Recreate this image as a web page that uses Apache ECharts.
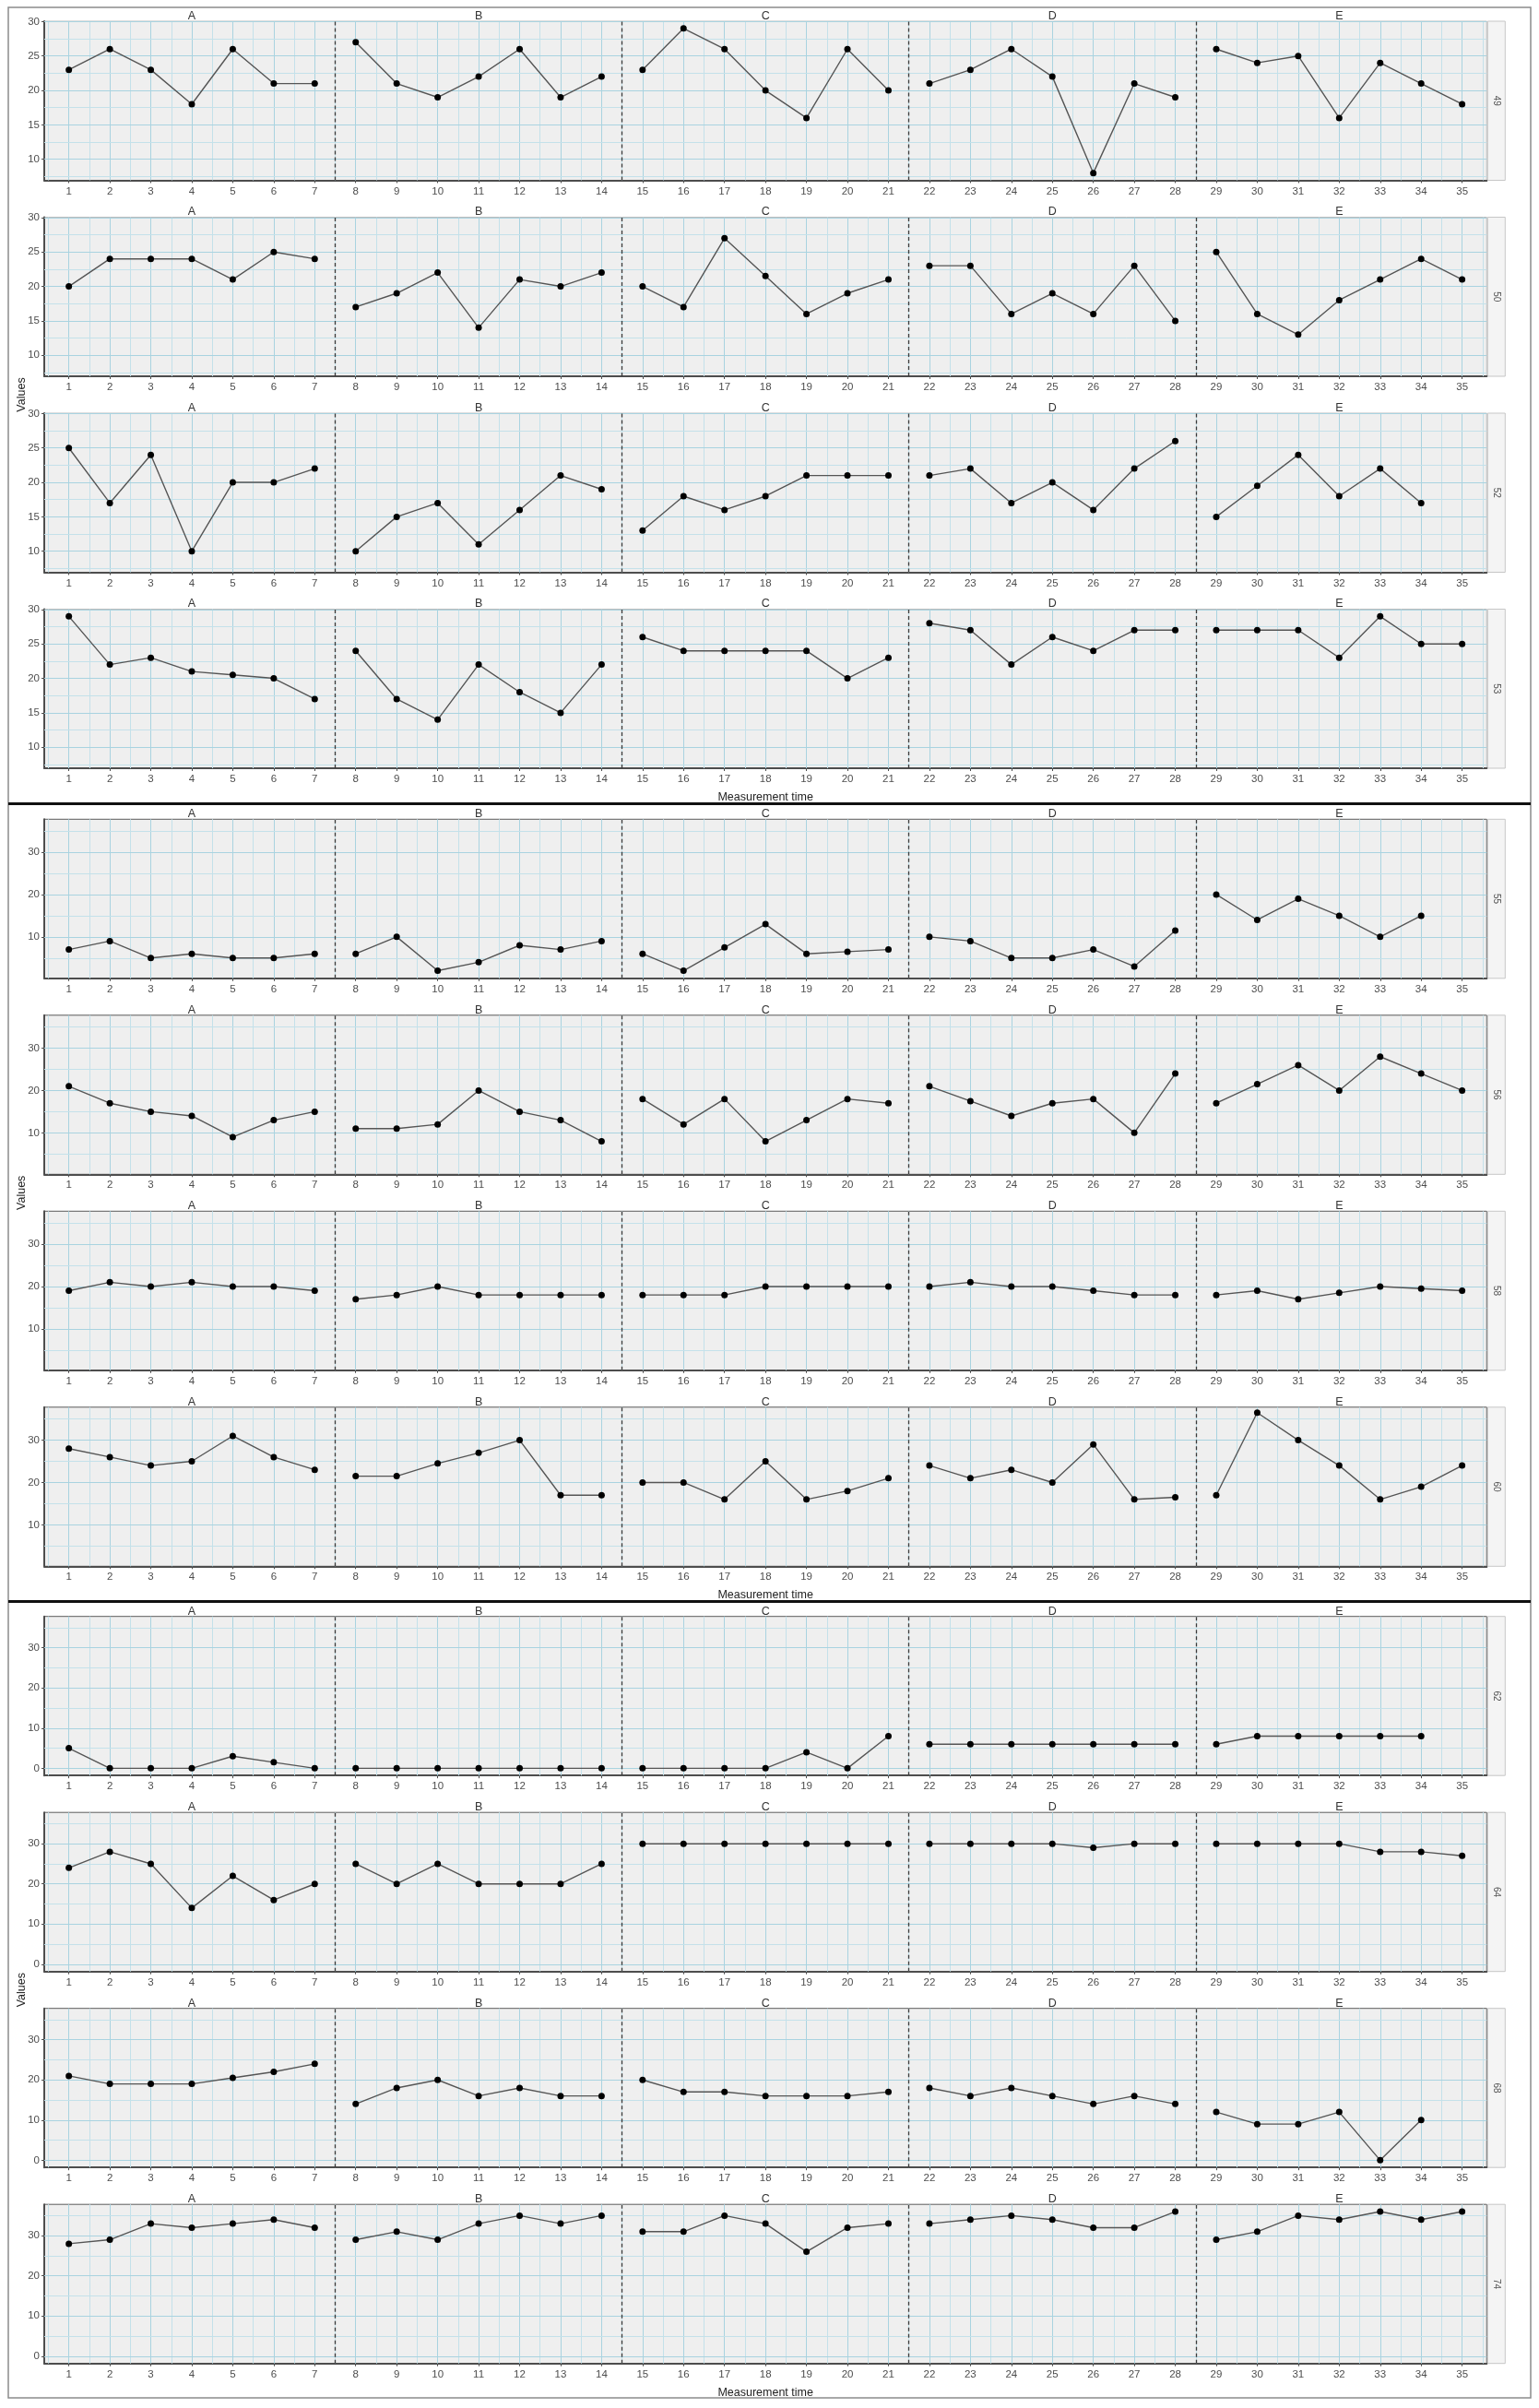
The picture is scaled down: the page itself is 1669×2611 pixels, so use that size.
<!DOCTYPE html>
<html>
<head>
<meta charset="utf-8">
<script src="https://cdn.jsdelivr.net/npm/echarts@6/dist/echarts.min.js"></script>
<style>
html, body { margin: 0; padding: 0; background: #fff; }
#chart { width: 1669px; height: 2611px; }
</style>
</head>
<body>
<div id="chart"></div>
<script>
// phases and ticks
const phaseNames = ['A', 'B', 'C', 'D', 'E'];
const phaseCenters = [4, 11, 18, 25, 32];
const phaseBreaks = [7.5, 14.5, 21.5, 28.5];
const timeTicks = [1, 2, 3, 4, 5, 6, 7, 8, 9, 10, 11, 12, 13, 14, 15, 16, 17, 18, 19, 20, 21, 22, 23, 24, 25, 26, 27, 28, 29, 30, 31, 32, 33, 34, 35];
const participants = [['49', '50', '52', '53'], ['55', '56', '58', '60'], ['62', '64', '68', '74']];

// values per participant, measurement time 1..35 (null = not measured)
const v49 = [23, 26, 23, 18, 26, 21, 21, 27, 21, 19, 22, 26, 19, 22, 23, 29, 26, 20, 16, 26, 20, 21, 23, 26, 22, 8, 21, 19, 26, 24, 25, 16, 24, 21, 18];
const v50 = [20, 24, 24, 24, 21, 25, 24, 17, 19, 22, 14, 21, 20, 22, 20, 17, 27, 21.5, 16, 19, 21, 23, 23, 16, 19, 16, 23, 15, 25, 16, 13, 18, 21, 24, 21];
const v52 = [25, 17, 24, 10, 20, 20, 22, 10, 15, 17, 11, 16, 21, 19, 13, 18, 16, 18, 21, 21, 21, 21, 22, 17, 20, 16, 22, 26, 15, 19.5, 24, 18, 22, 17, null];
const v53 = [29, 22, 23, 21, 20.5, 20, 17, 24, 17, 14, 22, 18, 15, 22, 26, 24, 24, 24, 24, 20, 23, 28, 27, 22, 26, 24, 27, 27, 27, 27, 27, 23, 29, 25, 25];
const v55 = [7, 9, 5, 6, 5, 5, 6, 6, 10, 2, 4, 8, 7, 9, 6, 2, 7.5, 13, 6, 6.5, 7, 10, 9, 5, 5, 7, 3, 11.5, 20, 14, 19, 15, 10, 15, null];
const v56 = [21, 17, 15, 14, 9, 13, 15, 11, 11, 12, 20, 15, 13, 8, 18, 12, 18, 8, 13, 18, 17, 21, 17.5, 14, 17, 18, 10, 24, 17, 21.5, 26, 20, 28, 24, 20];
const v58 = [19, 21, 20, 21, 20, 20, 19, 17, 18, 20, 18, 18, 18, 18, 18, 18, 18, 20, 20, 20, 20, 20, 21, 20, 20, 19, 18, 18, 18, 19, 17, 18.5, 20, 19.5, 19];
const v60 = [28, 26, 24, 25, 31, 26, 23, 21.5, 21.5, 24.5, 27, 30, 17, 17, 20, 20, 16, 25, 16, 18, 21, 24, 21, 23, 20, 29, 16, 16.5, 17, 36.5, 30, 24, 16, 19, 24];
const v62 = [5, 0, 0, 0, 3, 1.5, 0, 0, 0, 0, 0, 0, 0, 0, 0, 0, 0, 0, 4, 0, 8, 6, 6, 6, 6, 6, 6, 6, 6, 8, 8, 8, 8, 8, null];
const v64 = [24, 28, 25, 14, 22, 16, 20, 25, 20, 25, 20, 20, 20, 25, 30, 30, 30, 30, 30, 30, 30, 30, 30, 30, 30, 29, 30, 30, 30, 30, 30, 30, 28, 28, 27];
const v68 = [21, 19, 19, 19, 20.5, 22, 24, 14, 18, 20, 16, 18, 16, 16, 20, 17, 17, 16, 16, 16, 17, 18, 16, 18, 16, 14, 16, 14, 12, 9, 9, 12, 0, 10, null];
const v74 = [28, 29, 33, 32, 33, 34, 32, 29, 31, 29, 33, 35, 33, 35, 31, 31, 35, 33, 26, 32, 33, 33, 34, 35, 34, 32, 32, 36, 29, 31, 35, 34, 36, 34, 36];
const values = { '49': v49, '50': v50, '52': v52, '53': v53, '55': v55, '56': v56, '58': v58, '60': v60, '62': v62, '64': v64, '68': v68, '74': v74 };

// y axis per figure block
const groupTicks = [[10, 15, 20, 25, 30], [10, 20, 30], [0, 10, 20, 30]];
const groupMinor = [[7.5, 12.5, 17.5, 22.5, 27.5], [5, 15, 25, 35], [5, 15, 25, 35]];
const groupRange = [[6.95, 30.05], [0.2, 37.8], [-1.8, 37.8]];

// layout (px)
const FONT = "'Liberation Sans', Arial, sans-serif";
const plotLeft = 48, plotRight = 1612.3;
const groupTop = [23, 888.3, 1752.7];
const rowPitch = 212.5, panelH = 172.5;
const xMin = 0.4, xMax = 35.6;
const halfTicks = timeTicks.map(t => t - 0.5).concat([35.5]);

const grids = [], xAxes = [], yAxes = [], series = [], graphics = [];

graphics.push({ type: 'rect', shape: { x: 9, y: 8, width: 1651, height: 2592 }, style: { fill: 'none', stroke: '#8c8c8c', lineWidth: 1.5 }, z: 100 });
[871.5, 1736.5].forEach(y => {
  graphics.push({ type: 'line', shape: { x1: 9, y1: y, x2: 1660, y2: y }, style: { stroke: '#111', lineWidth: 3 }, z: 100 });
});

participants.forEach((row, g) => {
  row.forEach((pid, r) => {
    const k = grids.length;
    const top = groupTop[g] + r * rowPitch;
    grids.push({
      left: plotLeft, width: plotRight - plotLeft, top: top, height: panelH,
      show: true, backgroundColor: '#efefef',
      borderColor: g === 0 ? '#bcbcbc' : '#5a5a5a', borderWidth: 1
    });
    // bottom time axis
    xAxes.push({
      type: 'value', gridIndex: k, min: xMin, max: xMax,
      axisLine: { show: true, onZero: false, lineStyle: { color: '#4d4d4d', width: 2 } },
      axisTick: { show: true, customValues: timeTicks, length: 3, lineStyle: { color: '#4d4d4d' } },
      axisLabel: { customValues: timeTicks, margin: 6, fontSize: 11.5, color: '#4d4d4d', fontFamily: FONT },
      splitLine: { show: false },
      name: r === 3 ? 'Measurement time' : '',
      nameLocation: 'middle', nameGap: 25,
      nameTextStyle: { fontSize: 12.5, color: '#222', fontFamily: FONT }
    });
    // top phase labels
    xAxes.push({
      type: 'value', gridIndex: k, position: 'top', min: xMin, max: xMax,
      axisLine: { show: false }, axisTick: { show: false }, splitLine: { show: false },
      axisLabel: {
        customValues: phaseCenters, margin: -1, fontSize: 12.5, color: '#333', fontFamily: FONT,
        formatter: v => phaseNames[phaseCenters.indexOf(v)]
      }
    });
    yAxes.push({
      type: 'value', gridIndex: k, min: groupRange[g][0], max: groupRange[g][1],
      axisLine: { show: true, onZero: false, lineStyle: { color: '#4d4d4d', width: 2 } },
      axisTick: { show: true, customValues: groupTicks[g], length: 3, lineStyle: { color: '#4d4d4d' } },
      axisLabel: { customValues: groupTicks[g], margin: 5, fontSize: 11.5, color: '#4d4d4d', fontFamily: FONT },
      splitLine: { show: false }
    });

    // background grid + phase change lines
    const gridLines = [];
    halfTicks.forEach(v => gridLines.push({ xAxis: v, lineStyle: { color: '#c4e1ea', width: 1, type: 'solid' } }));
    timeTicks.forEach(v => gridLines.push({ xAxis: v, lineStyle: { color: '#a9d3e0', width: 1, type: 'solid' } }));
    groupMinor[g].forEach(v => gridLines.push({ yAxis: v, lineStyle: { color: '#c4e1ea', width: 1, type: 'solid' } }));
    groupTicks[g].forEach(v => gridLines.push({ yAxis: v, lineStyle: { color: '#a9d3e0', width: 1.2, type: 'solid' } }));
    phaseBreaks.forEach(v => gridLines.push({ xAxis: v, lineStyle: { color: '#3a3a3a', width: 1.3, type: [4, 3] } }));
    series.push({
      type: 'line', xAxisIndex: 2 * k, yAxisIndex: k, data: [], z: 1, silent: true,
      markLine: { silent: true, symbol: ['none', 'none'], label: { show: false }, animation: false, data: gridLines }
    });

    // one line per phase
    const vals = values[pid];
    phaseNames.forEach((ph, p) => {
      const pts = [];
      for (let i = p * 7; i < p * 7 + 7; i++) {
        if (vals[i] !== null) pts.push([timeTicks[i], vals[i]]);
      }
      series.push({
        type: 'line', name: pid + ph, xAxisIndex: 2 * k, yAxisIndex: k, data: pts, z: 5,
        symbol: 'circle', symbolSize: 7, showAllSymbol: true,
        itemStyle: { color: '#000' },
        lineStyle: { color: '#555', width: 1.4 },
        emphasis: { disabled: true }
      });
    });

    // facet strip on the right
    graphics.push({ type: 'rect', shape: { x: plotRight + 1, y: top, width: 19, height: panelH }, style: { fill: '#f4f4f4', stroke: '#c6c6c6', lineWidth: 1 } });
    graphics.push({
      type: 'text', x: plotRight + 10.5, y: top + panelH / 2, rotation: -Math.PI / 2,
      style: { text: pid, fill: '#555', font: '10px ' + FONT, textAlign: 'center', textVerticalAlign: 'middle', align: 'center', verticalAlign: 'middle' }
    });
  });
  graphics.push({
    type: 'text', x: 24, y: groupTop[g] + (3 * rowPitch + panelH) / 2, rotation: Math.PI / 2,
    style: { text: 'Values', fill: '#222', font: '12.5px ' + FONT, textAlign: 'center', textVerticalAlign: 'middle', align: 'center', verticalAlign: 'middle' }
  });
});

const chart = echarts.init(document.getElementById('chart'), null, { renderer: 'canvas' });
chart.setOption({
  animation: false,
  backgroundColor: '#fff',
  grid: grids,
  xAxis: xAxes,
  yAxis: yAxes,
  series: series,
  graphic: graphics
});
</script>
</body>
</html>
